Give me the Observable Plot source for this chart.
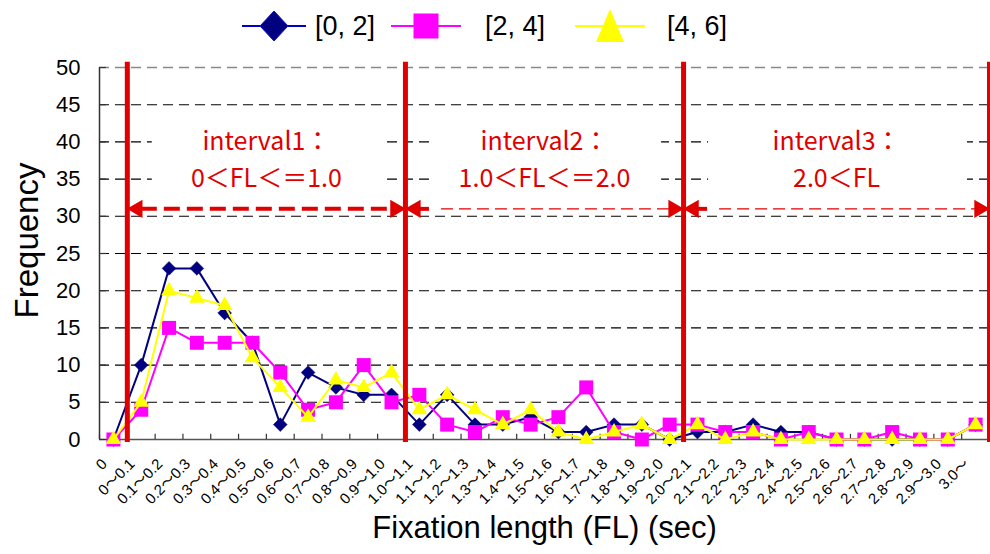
<!DOCTYPE html>
<html><head><meta charset="utf-8">
<script src="https://cdn.jsdelivr.net/npm/d3@7"></script>
<script src="https://cdn.jsdelivr.net/npm/@observablehq/plot@0.6"></script>
<style>
body{margin:0;background:#fff;font-family:"Liberation Sans",Arial,sans-serif;}
#legend{position:relative;height:50px;width:990px;}
.item{position:absolute;top:6px;height:40px;display:flex;align-items:center;}
.item span{font-size:27px;color:#000;margin-left:10px;}
#chart svg{display:block;overflow:visible;}
</style></head><body>
<div id="legend"></div>
<div id="chart"></div>
<script>
// ---- data ----
const categories = ["0","0～0.1","0.1～0.2","0.2～0.3","0.3～0.4","0.4～0.5","0.5～0.6","0.6～0.7","0.7～0.8","0.8～0.9","0.9～1.0",
  "1.0～1.1","1.1～1.2","1.2～1.3","1.3～1.4","1.4～1.5","1.5～1.6","1.6～1.7","1.7～1.8","1.8～1.9","1.9～2.0",
  "2.0～2.1","2.1～2.2","2.2～2.3","2.3～2.4","2.4～2.5","2.5～2.6","2.6～2.7","2.7～2.8","2.8～2.9","2.9～3.0","3.0～"];
const series0to2 = [0,10,23,23,17,13,2,9,7,6,6,2,6,2,2,3,1,1,2,2,0,1,1,2,1,1,0,0,0,0,0,2];
const series2to4 = [0,4,15,13,13,13,9,4,5,10,5,6,2,1,3,2,3,7,1,0,2,2,1,1,0,1,0,0,1,0,0,2];
const series4to6 = [0,5,20,19,18,11,7,3,8,7,9,4,6,4,2,4,1,0,1,2,0,2,0,1,0,0,0,0,0,0,0,2];
const seriesNames = ["[0, 2]","[2, 4]","[4, 6]"];
const yTicks = [0,5,10,15,20,25,30,35,40,45,50];
const intervalTitles = ["interval1：","interval2：","interval3："];
const intervalRanges = ["0＜FL＜＝1.0","1.0＜FL＜＝2.0","2.0＜FL"];
// interval boundaries as category-index edges (after "0", after "0.9～1.0", after "1.9～2.0", end)
const intervalEdges = [0.5, 10.5, 20.5, 31.5];
const yLabel = "Frequency";
const xLabel = "Fixation length (FL) (sec)";

// ---- styles ----
const colors = ["#000080","#ff00ff","#ffff00"];
const symbols = ["diamond2","square","triangle"];
const radii = [6.2, 7.9, 5.8];
const red = "#e00000";
const cjk = "'Noto Sans CJK JP', 'Liberation Sans', sans-serif";

const seriesValues = [series0to2, series2to4, series4to6];
const n = categories.length;
const idx = d3.range(n);
const rows = seriesValues.map((vals, s) => vals.map((v, i) => ({i, v, s})));
const intervals = intervalTitles.map((t, k) => ({
  start: intervalEdges[k], end: intervalEdges[k+1], mid: (intervalEdges[k] + intervalEdges[k+1]) / 2,
  title: t, range: intervalRanges[k]
}));
const arrowLevel = 31;

// legend (HTML)
const legend = document.getElementById("legend");
const legendLeft = [242, 391, 575];
const legendW = [64, 70, 70];
const legendGap = [9, 24, 22];
seriesNames.forEach((name, s) => {
  const it = document.createElement("div");
  it.className = "item";
  it.style.left = legendLeft[s] + "px";
  const w = legendW[s], c = w / 2;
  let shape;
  if (s === 0) shape = `<path d="M${c},5 L${c+14},20 L${c},35 L${c-14},20 Z" fill="${colors[0]}" stroke="#1010c0" stroke-width="1"/>`;
  else if (s === 1) shape = `<rect x="${c-12.5}" y="7.5" width="25" height="25" fill="${colors[1]}"/>`;
  else shape = `<path d="M${c},3 L${c+14},36 L${c-14},36 Z" fill="${colors[2]}"/>`;
  const lineColor = s === 0 ? "#0000cc" : colors[s];
  it.innerHTML = `<svg width="${w}" height="40"><line x1="0" x2="${w}" y1="20" y2="20" stroke="${lineColor}" stroke-width="2"/>${shape}</svg><span style="margin-left:${legendGap[s]}px">${name}</span>`;
  legend.appendChild(it);
});

const x0 = -0.5, x1 = n - 0.5;
const plot = Plot.plot({
  width: 990, height: 504,
  marginLeft: 99, marginRight: 1, marginTop: 17, marginBottom: 115,
  x: {type: "linear", domain: [x0, x1], axis: null},
  y: {domain: [0, 50], axis: null},
  style: {fontFamily: "'Liberation Sans', Arial, sans-serif", overflow: "visible", background: "white"},
  marks: [
    Plot.ruleY(yTicks.filter(t => t > 0 && t < 50), {x1: x0, x2: x1, stroke: "#000", strokeWidth: 1.1, strokeDasharray: "10,6"}),
    Plot.ruleY([50], {x1: x0, x2: x1, stroke: "#888", strokeWidth: 1.3, strokeDasharray: "10,6"}),
    // white boxes behind interval labels
    Plot.rect(intervals, {x1: "start", x2: "end", y1: () => 32.5, y2: () => 42.5, insetLeft: 25, insetRight: 22, fill: "white"}),
    // axes lines
    Plot.ruleX([x0], {y1: 0, y2: 50, stroke: "#333", strokeWidth: 1.5}),
    Plot.ruleY([0], {x1: x0, x2: x1, stroke: "#555", strokeWidth: 1.5}),
    // inside ticks
    Plot.ruleY(yTicks, {x1: x0, x2: x0 + 0.25, stroke: "#333", strokeWidth: 1.2}),
    Plot.ruleX(d3.range(n + 1).map(i => i - 0.5), {y1: 0, y2: 0.7, stroke: "#333", strokeWidth: 1.2}),
    Plot.axisY(yTicks, {tickSize: 0, tickPadding: 19, fontSize: 22, label: null, fill: "#000"}),
    Plot.axisX(idx, {tickSize: 0, tickFormat: i => categories[i], tickRotate: -45, fontSize: 15, tickPadding: 22, dx: -9,
      fontFamily: "'Liberation Sans', 'Noto Sans CJK JP', sans-serif", label: null, fill: "#000"}),
    Plot.text([yLabel], {frameAnchor: "left", textAnchor: "middle", rotate: -90, dx: -72, dy: -13, fontSize: 33, fill: "#000"}),
    Plot.text([xLabel], {frameAnchor: "bottom", dy: 98, fontSize: 31, fill: "#000"}),
    // series
    ...rows.flatMap((data, s) => [
      Plot.line(data, {x: "i", y: "v", stroke: colors[s], strokeWidth: 2}),
      Plot.dot(data, {x: "i", y: "v", symbol: symbols[s], r: radii[s], fill: colors[s], stroke: s === 0 ? "#000060" : "none", strokeWidth: 0.5})
    ]),
    // interval boundaries
    Plot.ruleX(intervalEdges, {y1: -0.4, y2: 50.7, stroke: red, strokeWidth: 5}),
    // interval arrows
    Plot.ruleY(intervals.slice(0, 1), {y: () => arrowLevel, x1: "start", x2: "end", insetLeft: 14, insetRight: 14, stroke: red, strokeWidth: 4, strokeDasharray: "16,7"}),
    Plot.ruleY(intervals.slice(1, 2), {y: () => arrowLevel, x1: "start", x2: "start", insetLeft: 14, insetRight: -24, stroke: red, strokeWidth: 4}),
    Plot.ruleY(intervals.slice(1), {y: () => arrowLevel, x1: "start", x2: "end", insetLeft: 36, insetRight: 14, stroke: red, strokeWidth: 1.2, strokeDasharray: "12,6"}),
    Plot.ruleY(intervals.slice(2), {y: () => arrowLevel, x1: "start", x2: "start", insetLeft: 14, insetRight: -24, stroke: red, strokeWidth: 4}),
    Plot.dot(intervals, {x: "start", y: () => arrowLevel, symbol: "triangle", rotate: -90, r: 6.7, dx: 10, fill: red}),
    Plot.dot(intervals, {x: "end", y: () => arrowLevel, symbol: "triangle", rotate: 90, r: 6.7, dx: -10, fill: red}),
    // interval labels
    Plot.text(intervals, {x: "mid", y: () => 40, text: "title", fill: red, fontSize: 25, fontFamily: cjk}),
    Plot.text(intervals, {x: "mid", y: () => 35, text: "range", fill: red, fontSize: 25, fontFamily: cjk})
  ]
});
document.getElementById("chart").appendChild(plot);
</script>
</body></html>
